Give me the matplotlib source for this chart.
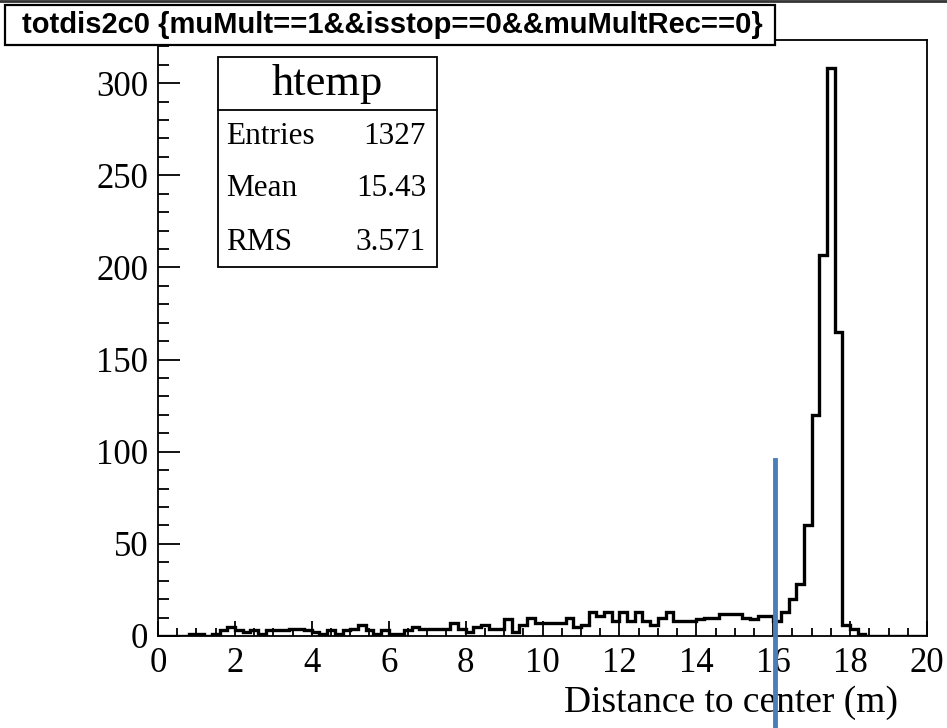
import numpy as np
import matplotlib
matplotlib.use("Agg")
import matplotlib.pyplot as plt
from matplotlib.patches import Rectangle
from matplotlib.lines import Line2D
from matplotlib.ticker import MultipleLocator

# ---- data ----
x_min, x_max, n_bins = 0.0, 20.0, 100
counts_low = [0, 0, 0, 0, 1, 1, 0, 1, 3, 5,
              3, 2, 3, 1, 3, 3, 3, 4, 4, 3,
              2, 1, 3, 1, 3, 4, 6, 3, 1, 3,
              1, 1, 3, 5, 4, 4, 4, 4, 7, 4]
counts_mid = [2, 5, 6, 4, 4, 9, 2, 6, 10, 7,
              7, 7, 7, 10, 5, 6, 13, 11, 13, 8,
              13, 8, 13, 8, 6, 10, 13, 8, 8, 8,
              9, 10, 10, 12, 12, 12, 10, 9, 11, 11]
counts_high = [8, 13, 20, 28, 60, 120, 207, 308, 165, 6,
               4, 1, 0, 0, 0, 0, 0, 0, 0, 0]
counts = np.array(counts_low + counts_mid + counts_high, dtype=float)

title_text = "totdis2c0 {muMult==1&&isstop==0&&muMultRec==0}"
stats_name = "htemp"
stats_labels = ["Entries", "Mean", "RMS"]
stats_values = ["1327", "15.43", "3.571"]
x_label = "Distance to center (m)"
marker_x = 16.05

serif = ["Liberation Serif", "DejaVu Serif"]
sans = ["Liberation Sans", "DejaVu Sans"]

fig = plt.figure(figsize=(9.47, 7.28), dpi=100)
W, H = 947, 728
ax_l, ax_r, ax_t, ax_b = 158, 927, 40, 636
ax = fig.add_axes([ax_l / W, 1 - ax_b / H, (ax_r - ax_l) / W, (ax_b - ax_t) / H])

edges = np.linspace(x_min, x_max, n_bins + 1)
ax.stairs(counts, edges, baseline=0, color="black", linewidth=2.4, zorder=3)

ymax = counts.max() * 1.05
ax.set_xlim(x_min, x_max)
ax.set_ylim(0, ymax)

ax.xaxis.set_major_locator(MultipleLocator(2))
ax.xaxis.set_minor_locator(MultipleLocator(0.5))
ax.yaxis.set_major_locator(MultipleLocator(50))
ax.yaxis.set_minor_locator(MultipleLocator(10))
ax.tick_params(axis="x", which="major", direction="in", length=11, width=1.3,
               pad=8, labelsize=25, top=False)
ax.tick_params(axis="x", which="minor", direction="in", length=5.5, width=1.3, top=False)
ax.tick_params(axis="y", which="major", direction="in", length=16, width=1.3,
               pad=7, labelsize=25, right=False)
ax.tick_params(axis="y", which="minor", direction="in", length=8, width=1.3, right=False)
for lab in ax.get_xticklabels() + ax.get_yticklabels():
    lab.set_family(serif)
for s in ax.spines.values():
    s.set_linewidth(1.3)

ax.set_xlabel(x_label, fontsize=27, family=serif, ha="right", va="center")
ax.xaxis.set_label_coords((898 - ax_l) / (ax_r - ax_l), -(703 - ax_b) / (ax_b - ax_t))

# stats box
def ay(py):
    return (ax_b - py) / (ax_b - ax_t)
def axx(px):
    return (px - ax_l) / (ax_r - ax_l)

bx0, bx1, by0, by1 = axx(218), axx(437), ay(267), ay(57)
ax.add_patch(Rectangle((bx0, by0), bx1 - bx0, by1 - by0, transform=ax.transAxes,
                       facecolor="white", edgecolor="black", linewidth=1.3, zorder=5))
ax.add_line(Line2D([bx0, bx1], [ay(110), ay(110)], transform=ax.transAxes,
                   color="black", linewidth=1.3, zorder=6))
ax.text((bx0 + bx1) / 2, ay(84), stats_name, transform=ax.transAxes, ha="center",
        va="center", fontsize=32, family=serif, zorder=7)
for i, (lab, val) in enumerate(zip(stats_labels, stats_values)):
    yy = ay(136 + 53 * i)
    ax.text(axx(226), yy, lab, transform=ax.transAxes, ha="left", va="center",
            fontsize=22.5, family=serif, zorder=7)
    ax.text(axx(426), yy, val, transform=ax.transAxes, ha="right", va="center",
            fontsize=22.5, family=serif, zorder=7)

# marker line
ax.axvline(marker_x, ymin=-(H - ax_b) / (ax_b - ax_t), ymax=ay(460), color="#4a7ebb",
           linewidth=3.5, clip_on=False, zorder=20)

# title box
fig.patches.append(Rectangle((5 / W, 1 - 45 / H), (775 - 5) / W, 40 / H,
                             transform=fig.transFigure, facecolor="white",
                             edgecolor="black", linewidth=1.6, zorder=10))
fig.text(392 / W, 1 - 25 / H, title_text, ha="center", va="center", fontsize=21,
         fontweight="bold", family=sans, zorder=11)
fig.add_artist(Line2D([0, 1], [1 - 1 / H, 1 - 1 / H], transform=fig.transFigure,
                      color="#333333", linewidth=2))

fig.savefig("out.png", dpi=100)
